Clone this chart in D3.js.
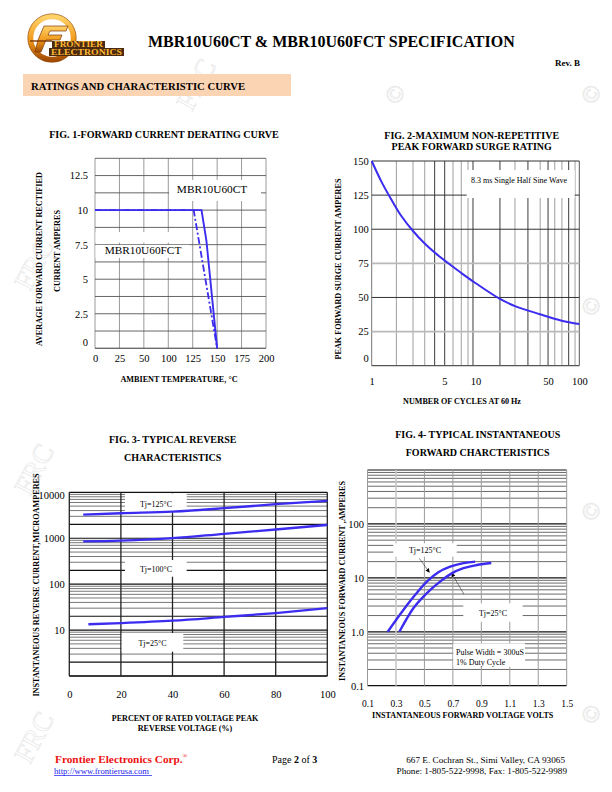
<!DOCTYPE html>
<html><head><meta charset="utf-8">
<script src="https://cdn.jsdelivr.net/npm/d3@7"></script>
<style>
body{margin:0;background:#fff}
svg{display:block}
text{font-family:"Liberation Serif","Times New Roman",serif}
</style>
</head><body>
<svg id="page" width="612" height="792"></svg>
<script>
// ---------------- DATA ----------------
// Fig. 1 forward current derating (tick labels as printed, 75 is absent on the original)
const fig1XTicks = [0, 25, 50, 100, 125, 150, 175, 200];
const fig1YTicks = [0, 2.5, 5, 7.5, 10, 12.5];
const fig1CT_T  = [0, 134, 139, 150];
const fig1CT_I  = [10, 10, 7.8, 0];
const fig1FCT_T = [0, 126, 150];
const fig1FCT_I = [10, 10, 0];

// Fig. 2 surge rating
const fig2XTicks = [1, 5, 10, 50, 100];
const fig2YTicks = [0, 25, 50, 75, 100, 125, 150];
const fig2Grid   = [1.73, 2.5, 3.24, 4.04, 5.05, 6.07, 7.3, 8.47, 9.46, 17.2, 24, 32, 42, 50, 58, 68, 79, 91];
const fig2Cycles = [1, 1.237, 1.545, 1.93, 2.5, 3.24, 4.04, 5.43, 7.3, 9.8, 17.2, 24, 41.8, 67.6, 100];
const fig2Amps   = [150, 135.1, 121.8, 109.7, 98.7, 89.5, 82.9, 75.2, 67.9, 61.0, 48.9, 43.7, 37.7, 33, 30.5];

// Fig. 3 reverse characteristics (percent of rated voltage -> microamperes)
const fig3XTicks = [0, 20, 40, 60, 80, 100];
const fig3YTicks = [10, 100, 1000, 10000];
const fig3Pct125 = [5.4, 20, 40, 60, 80, 100];
const fig3I125   = [3250, 3500, 3800, 4500, 5500, 6500];
const fig3Pct100 = [5.4, 20, 40, 60, 80, 100];
const fig3I100   = [850, 885, 1000, 1250, 1550, 1950];
const fig3Pct25  = [7.4, 20, 40, 60, 80, 100];
const fig3I25    = [13.4, 14.2, 16, 19.3, 23.5, 30];

// Fig. 4 forward characteristics (volts -> amperes)
const fig4XTicks  = [0.1, 0.3, 0.5, 0.7, 0.9, 1.1, 1.3, 1.5];
const fig4YTicks  = [0.1, 1, 10, 100];
const fig4YLabels = ["0.1", "1.0", "10", "100"];
const fig4V125 = [0.242, 0.352, 0.434, 0.517, 0.598, 0.681, 0.774, 0.857];
const fig4I125 = [1.0, 2.54, 4.8, 8.5, 12.7, 16.1, 18.7, 20];
const fig4V25  = [0.324, 0.422, 0.517, 0.61, 0.692, 0.774, 0.869, 0.97];
const fig4I25  = [1.0, 2.73, 5.2, 8.5, 12.1, 15.1, 17.3, 18.9];

// ---------------- HELPERS ----------------
const BLUE = "#3b2cf0";
const page = d3.select("#page");
function T(g, x, y, s, o = {}) {
  const t = g.append("text").attr("x", x).attr("y", y).text(s)
    .attr("font-size", o.size || 10)
    .attr("font-weight", o.bold ? "bold" : "normal")
    .attr("text-anchor", o.anchor || "start")
    .attr("fill", o.fill || "#000");
  if (o.rotate) t.attr("transform", `rotate(-90,${x},${y})`);
  if (o.family) t.attr("font-family", o.family);
  return t;
}
function line(g, x1, y1, x2, y2, c, w) {
  return g.append("line").attr("x1", x1).attr("y1", y1).attr("x2", x2).attr("y2", y2)
    .attr("stroke", c).attr("stroke-width", w);
}
function box(g, x, y, w, h) {
  g.append("rect").attr("x", x).attr("y", y).attr("width", w).attr("height", h).attr("fill", "#fff");
}
function styleAxis(ax, size) {
  ax.select(".domain").remove();
  ax.selectAll("line").remove();
  ax.selectAll("text").attr("font-family", '"Liberation Serif","Times New Roman",serif')
    .attr("font-size", size).attr("fill", "#000");
}
const zip = (a, b) => a.map((d, i) => [d, b[i]]);

// ---------------- WATERMARK ----------------
const wm = page.append("g").attr("fill", "none").attr("stroke", "#ebebeb").attr("stroke-width", 0.8);
[[30, 292], [30, 497], [30, 765], [192, 112]].forEach(p => {
  wm.append("text").attr("transform", `translate(${p[0]},${p[1]}) rotate(-62)`)
    .attr("font-size", 28).attr("font-family", "DejaVu Sans").text("FRC");
});
[[402, 98], [598, 98], [598, 310], [598, 515], [598, 718]].forEach(p => {
  wm.append("text").attr("transform", `translate(${p[0]},${p[1]}) rotate(-62)`)
    .attr("font-size", 24).attr("font-family", "DejaVu Sans").attr("text-anchor", "middle").text("©");
});

// ---------------- HEADER ----------------
const defs = page.append("defs");
const lg = defs.append("linearGradient").attr("id", "gold").attr("x1", 0).attr("y1", 0).attr("x2", 0).attr("y2", 1);
lg.append("stop").attr("offset", "0%").attr("stop-color", "#ffd36a");
lg.append("stop").attr("offset", "55%").attr("stop-color", "#f09a1c");
lg.append("stop").attr("offset", "100%").attr("stop-color", "#a44d05");
defs.append("marker").attr("id", "arr").attr("viewBox", "0 0 8 8").attr("refX", 7).attr("refY", 4)
  .attr("markerWidth", 7).attr("markerHeight", 7).attr("orient", "auto")
  .append("path").attr("d", "M0,0 L8,4 L0,8 z").attr("fill", "#000");

const logo = page.append("g");
logo.append("circle").attr("cx", 52).attr("cy", 38).attr("r", 21.5).attr("fill", "none")
  .attr("stroke", "url(#gold)").attr("stroke-width", 5.5);
logo.append("circle").attr("cx", 52).attr("cy", 38).attr("r", 24.2).attr("fill", "none")
  .attr("stroke", "#8a3e04").attr("stroke-width", 0.6);
logo.append("path").attr("d", "M38,40 L44,26 L68,26 L66,31 L50,31 L48,35 L62,35 L60,40 L46,40 L41,52 L35,52 Z")
  .attr("fill", "url(#gold)").attr("stroke", "#7a3603").attr("stroke-width", 0.7);
logo.append("path").attr("d", "M30,41 L52,41").attr("stroke", "#7a3603").attr("stroke-width", 1.4);
logo.append("rect").attr("x", 52).attr("y", 41).attr("width", 53).attr("height", 7).attr("fill", "#4a2a10");
logo.append("rect").attr("x", 49).attr("y", 48).attr("width", 75).attr("height", 8).attr("fill", "#4a2a10");
T(logo, 54, 47.4, "FRONTIER", { size: 7.6, bold: true, family: "DejaVu Sans", fill: "#ffb833" })
  .attr("textLength", 49).attr("lengthAdjust", "spacingAndGlyphs");
T(logo, 51, 55.2, "ELECTRONICS", { size: 8.2, bold: true, family: "DejaVu Sans", fill: "#ffb833" })
  .attr("textLength", 71).attr("lengthAdjust", "spacingAndGlyphs");

T(page, 148, 47, "MBR10U60CT & MBR10U60FCT SPECIFICATION", { size: 16, bold: true });
T(page, 580, 66, "Rev. B", { size: 9, bold: true, anchor: "end" });
page.append("rect").attr("x", 23).attr("y", 74).attr("width", 268).attr("height", 22).attr("fill", "#fbd4b4");
T(page, 31, 89.5, "RATINGS AND CHARACTERISTIC CURVE", { size: 10.7, bold: true });

// ---------------- FIG 1 ----------------
{
  const g = page.append("g");
  const L = 95, R = 266, B = 348.3, Tp = 158.3;
  const n = fig1XTicks.length - 1;
  const x = d3.scaleLinear().domain(fig1XTicks).range(fig1XTicks.map((d, i) => L + i * (R - L) / n));
  const y = d3.scaleLinear().domain([0, 13.75]).range([B, Tp]);
  fig1XTicks.forEach(d => line(g, x(d), Tp, x(d), B, "#9a9a9a", 1));
  d3.range(0, 13.76, 1.25).forEach(v => line(g, L, y(v), R, y(v), "#555", 0.9));
  line(g, L, B, R, B, "#666", 1);
  box(g, 169, 180, 92, 21);
  box(g, 95.5, 232, 94, 10.6);
  box(g, 95.5, 244.9, 94, 13);
  T(g, 212, 192.5, "MBR10U60CT", { size: 11.3, anchor: "middle" });
  T(g, 143, 254, "MBR10U60FCT", { size: 11.3, anchor: "middle" });
  const ln = d3.line().x(d => x(d[0])).y(d => y(d[1]));
  g.append("path").attr("d", ln(zip(fig1FCT_T, fig1FCT_I))).attr("fill", "none").attr("stroke", BLUE)
    .attr("stroke-width", 1.8).attr("stroke-dasharray", "7,2.5,2,2.5");
  g.append("path").attr("d", ln(zip(fig1CT_T, fig1CT_I))).attr("fill", "none").attr("stroke", BLUE)
    .attr("stroke-width", 1.9);
  const ay = g.append("g").attr("transform", `translate(${L},0)`)
    .call(d3.axisLeft(y).tickValues(fig1YTicks).tickSize(0).tickPadding(7).tickFormat(d => String(d)));
  styleAxis(ay, 10.5);
  ay.selectAll(".tick").filter(d => d === 0).select("text").attr("dy", "-0.25em");
  const ax = g.append("g").attr("transform", `translate(0,${B})`)
    .call(d3.axisBottom(x).tickValues(fig1XTicks).tickSize(0).tickPadding(6).tickFormat(d => String(d)));
  styleAxis(ax, 10.5);
  T(g, 164, 138, "FIG. 1-FORWARD CURRENT DERATING CURVE", { size: 10.1, bold: true, anchor: "middle" });
  T(g, 42, 259, "AVERAGE FORWARD CURRENT RECTIFIED", { size: 8.2, bold: true, anchor: "middle", rotate: true });
  T(g, 60, 251, "CURRENT AMPERES", { size: 8.2, bold: true, anchor: "middle", rotate: true });
  T(g, 179, 382, "AMBIENT TEMPERATURE, °C", { size: 8.2, bold: true, anchor: "middle" });
}

// ---------------- FIG 2 ----------------
{
  const g = page.append("g");
  const L = 371.7, R = 579.3, B = 365.7, Tp = 161;
  const x = d3.scaleLog().domain([1, 100]).range([L, R]);
  const y = d3.scaleLinear().domain([0, 150]).range([B, Tp]);
  const dark = new Set([4.04, 5.05, 9.46, 17.2, 32, 50, 79]);
  fig2Grid.forEach(v => line(g, x(v), Tp, x(v), B, dark.has(v) ? "#3c3c3c" : "#a8a8a8", dark.has(v) ? 1 : 1.1));
  line(g, L, Tp, L, B, "#777", 1);
  line(g, R, Tp, R, B, "#555", 1);
  [150, 125, 100, 50].forEach(v => line(g, L, y(v), R, y(v), "#333", 1));
  [75, 25].forEach(v => line(g, L, y(v), R, y(v), "#b9b9b9", 1.6));
  line(g, L, B, R, B, "#555", 1.2);
  box(g, 466.7, 170, 108, 28);
  T(g, 519, 183, "8.3 ms Single Half Sine Wave", { size: 8, anchor: "middle" });
  const ln = d3.line().x(d => x(d[0])).y(d => y(d[1])).curve(d3.curveCatmullRom.alpha(0.5));
  g.append("path").attr("d", ln(zip(fig2Cycles, fig2Amps))).attr("fill", "none").attr("stroke", BLUE).attr("stroke-width", 2);
  const ay = g.append("g").attr("transform", `translate(${L},0)`)
    .call(d3.axisLeft(y).tickValues(fig2YTicks).tickSize(0).tickPadding(3).tickFormat(d3.format("d")));
  styleAxis(ay, 10.5);
  ay.selectAll(".tick").filter(d => d === 0).select("text").attr("dy", "-0.4em");
  const ax = g.append("g").attr("transform", `translate(0,${B})`)
    .call(d3.axisBottom(x).tickValues(fig2XTicks).tickSize(0).tickPadding(12).tickFormat(d3.format("d")));
  styleAxis(ax, 10.5);
  T(g, 471.7, 138.5, "FIG. 2-MAXIMUM NON-REPETITIVE", { size: 10, bold: true, anchor: "middle" });
  T(g, 471.7, 150.3, "PEAK FORWARD SURGE RATING", { size: 10, bold: true, anchor: "middle" });
  T(g, 341, 269, "PEAK FORWARD SURGE CURRENT AMPERES", { size: 8.2, bold: true, anchor: "middle", rotate: true });
  T(g, 462, 404, "NUMBER OF CYCLES AT 60 Hz", { size: 8.1, bold: true, anchor: "middle" });
}

// ---------------- FIG 3 ----------------
{
  const g = page.append("g");
  const L = 69.3, R = 327.3, B = 676, Tp = 492.3;
  const x = d3.scaleLinear().domain([0, 100]).range([L, R]);
  const y = d3.scaleLog().domain([1, 10000]).range([B, Tp]);
  const hv = [];
  [1, 10, 100, 1000].forEach(dec => d3.range(1, 10).forEach(k => hv.push(dec * k)));
  hv.push(10000);
  hv.forEach(v => {
    const k = v / Math.pow(10, Math.floor(Math.log10(v) + 1e-9));
    const major = Math.abs(k - 1) < 1e-6 || Math.abs(k - 2) < 1e-6;
    line(g, L, y(v), R, y(v), major ? "#111" : "#555", major ? 1.2 : 0.8);
  });
  fig3XTicks.forEach(d => line(g, x(d), Tp, x(d), B, "#222", 1.3));
  line(g, L, B, R, B, "#222", 1.3);
  box(g, 125, 493.3, 61.7, 19);
  box(g, 125, 560, 61.7, 16.7);
  box(g, 121.7, 633, 61.6, 18.7);
  T(g, 156, 506.5, "Tj=125°C", { size: 8, anchor: "middle" });
  T(g, 156, 571.8, "Tj=100°C", { size: 8, anchor: "middle" });
  T(g, 152.5, 646, "Tj=25°C", { size: 8, anchor: "middle" });
  const ln = d3.line().x(d => x(d[0])).y(d => y(d[1])).curve(d3.curveMonotoneX);
  [[fig3Pct125, fig3I125], [fig3Pct100, fig3I100], [fig3Pct25, fig3I25]].forEach(s => {
    g.append("path").attr("d", ln(zip(s[0], s[1]))).attr("fill", "none").attr("stroke", BLUE).attr("stroke-width", 2.3);
  });
  const ay = g.append("g").attr("transform", `translate(${L},0)`)
    .call(d3.axisLeft(y).tickValues(fig3YTicks).tickSize(0).tickPadding(4.5).tickFormat(d3.format("d")));
  styleAxis(ay, 10.5);
  ay.selectAll(".tick").filter(d => d === 10000).select("text").attr("dy", "0.6em");
  const ax = g.append("g").attr("transform", `translate(0,${B})`)
    .call(d3.axisBottom(x).tickValues(fig3XTicks).tickSize(0).tickPadding(15).tickFormat(d3.format("d")));
  styleAxis(ax, 10.5);
  T(g, 172.7, 442.5, "FIG. 3- TYPICAL REVERSE", { size: 10, bold: true, anchor: "middle" });
  T(g, 172.7, 461, "CHARACTERISTICS", { size: 10, bold: true, anchor: "middle" });
  T(g, 38.5, 585, "INSTANTANEOUS REVERSE CURRENT,MICROAMPERES", { size: 8.2, bold: true, anchor: "middle", rotate: true });
  T(g, 185, 720.5, "PERCENT OF RATED VOLTAGE PEAK", { size: 8.1, bold: true, anchor: "middle" });
  T(g, 185, 731, "REVERSE VOLTAGE (%)", { size: 8.1, bold: true, anchor: "middle" });
}

// ---------------- FIG 4 ----------------
{
  const g = page.append("g");
  const L = 367.5, R = 566.7, B = 685.7, Tp = 470;
  const x = d3.scaleLinear().domain([0.1, 1.5]).range([L, R]);
  const y = d3.scaleLog().domain([0.1, 1000]).range([B, Tp]);
  const hv = [];
  [0.1, 1, 10, 100].forEach(dec => d3.range(1, 10).forEach(k => hv.push(dec * k)));
  hv.push(1000);
  hv.forEach(v => {
    const k = Math.round(v / Math.pow(10, Math.floor(Math.log10(v) + 1e-9)));
    line(g, L, y(v), R, y(v), k === 1 ? "#111" : "#444", k === 1 ? 1.2 : 0.8);
  });
  fig4XTicks.forEach((d, i) => line(g, x(d), Tp, x(d), B, i === 1 ? "#c8c8c8" : "#9a9a9a", i === 1 ? 1.6 : 1));
  box(g, 393.3, 543.3, 63.4, 13.4);
  box(g, 463.3, 603.3, 59.4, 18.4);
  box(g, 453.3, 643.3, 71.7, 23.4);
  T(g, 425, 553, "Tj=125°C", { size: 8, anchor: "middle" });
  T(g, 493, 615.5, "Tj=25°C", { size: 8, anchor: "middle" });
  T(g, 456, 654.5, "Pulse Width = 300uS", { size: 8 });
  T(g, 456, 664.5, "1% Duty Cycle", { size: 8 });
  line(g, 419.3, 558.3, 429.3, 572.3, "#333", 0.6).attr("marker-end", "url(#arr)");
  line(g, 464, 594.3, 451.7, 573.3, "#333", 0.6).attr("marker-end", "url(#arr)");
  const ln = d3.line().x(d => x(d[0])).y(d => y(d[1])).curve(d3.curveMonotoneX);
  [[fig4V125, fig4I125], [fig4V25, fig4I25]].forEach(s => {
    g.append("path").attr("d", ln(zip(s[0], s[1]))).attr("fill", "none").attr("stroke", BLUE).attr("stroke-width", 2.4);
  });
  const ay = g.append("g").attr("transform", `translate(${L},0)`)
    .call(d3.axisLeft(y).tickValues(fig4YTicks).tickSize(0).tickPadding(3.5).tickFormat((d, i) => fig4YLabels[i]));
  styleAxis(ay, 10.5);
  const ax = g.append("g").attr("transform", `translate(0,${B})`)
    .call(d3.axisBottom(x).tickValues(fig4XTicks).tickSize(0).tickPadding(15).tickFormat(d3.format(".1f")));
  styleAxis(ax, 9.5);
  T(g, 477.7, 437.5, "FIG. 4- TYPICAL INSTANTANEOUS", { size: 10, bold: true, anchor: "middle" });
  T(g, 477.7, 455.5, "FORWARD CHARCTERISTICS", { size: 10, bold: true, anchor: "middle" });
  T(g, 344.5, 581, "INSTANTANEOUS FORWARD CURRENT ,AMPERES", { size: 8.2, bold: true, anchor: "middle", rotate: true });
  T(g, 462.7, 717.5, "INSTANTANEOUS FORWARD VOLTAGE VOLTS", { size: 8.1, bold: true, anchor: "middle" });
}

// ---------------- FOOTER ----------------
{
  const g = page.append("g");
  T(g, 55, 763, "Frontier Electronics Corp.", { size: 11.3, bold: true, fill: "#ee1111" });
  T(g, 182.5, 757.5, "®", { size: 6.5, fill: "#ee1111" });
  T(g, 54, 774, "http://www.frontierusa.com", { size: 8.6, fill: "#1a1aee" });
  line(g, 54, 775.5, 152, 775.5, "#1a1aee", 0.7);
  const p = g.append("text").attr("x", 272).attr("y", 763).attr("font-size", 10);
  p.append("tspan").text("Page ");
  p.append("tspan").attr("font-weight", "bold").text("2");
  p.append("tspan").text(" of ");
  p.append("tspan").attr("font-weight", "bold").text("3");
  T(g, 565, 763, "667 E. Cochran St., Simi Valley, CA 93065", { size: 9.2, anchor: "end" });
  T(g, 567, 774, "Phone: 1-805-522-9998, Fax: 1-805-522-9989", { size: 9.2, anchor: "end" });
}
</script>
</body></html>
